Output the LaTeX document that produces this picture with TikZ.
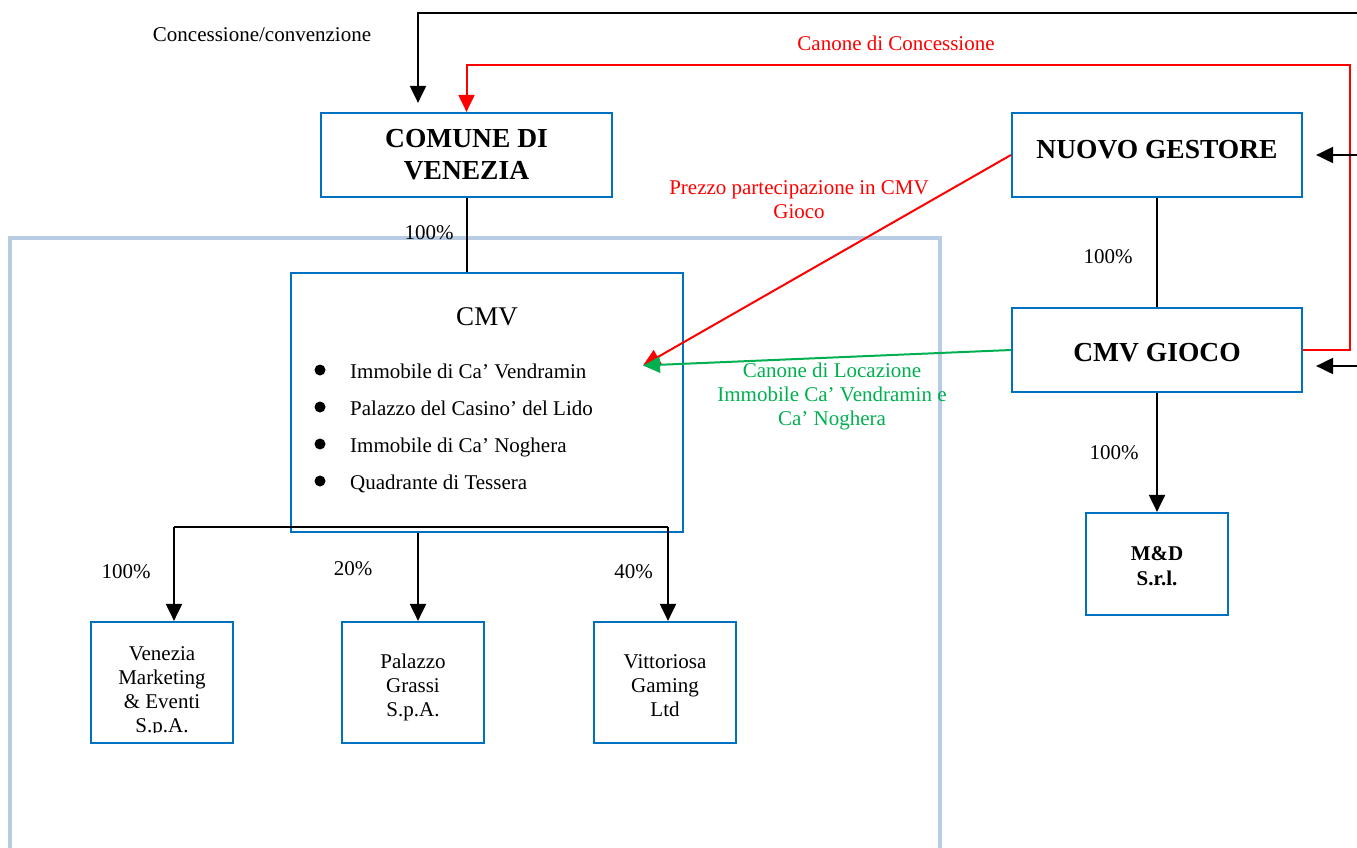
\documentclass[tikz,border=0pt]{standalone}
\usepackage{fontspec}
\setmainfont{Liberation Serif}
\usetikzlibrary{arrows.meta}
\definecolor{boxblue}{RGB}{0,112,192}
\definecolor{frameblue}{RGB}{184,204,228}
\definecolor{lgreen}{RGB}{0,176,80}
\begin{document}
\begin{tikzpicture}[x=1pt,y=-1pt,
  box/.style={draw=boxblue,line width=2.2pt,inner sep=0pt},
  txt/.style={font=\fontsize{21}{24}\selectfont,inner sep=0pt},
  btxt/.style={font=\fontsize{21}{25}\selectfont\bfseries,inner sep=0pt},
  big/.style={font=\fontsize{27.5}{32}\selectfont\bfseries,inner sep=0pt},
  conn/.style={line width=2pt},
  tipa/.style={-{Triangle[length=17pt,width=16pt]}},
  arr/.style={conn,tipa},
]
\useasboundingbox (0,0) rectangle (1357,848);
\fill[white] (0,0) rectangle (1357,848);

% light blue frame
\draw[frameblue,line width=4pt] (10,852) -- (10,238) -- (940,238) -- (940,852);

% boxes
\node[box,minimum width=291pt,minimum height=84pt] (comune) at (466.5,155) {};
\node[big,align=center] (comunet) at (466.5,155) {COMUNE DI\\VENEZIA};
\node[box,minimum width=290pt,minimum height=84pt] (nuovo) at (1157,155) {};
\node[big,anchor=base] (nuovot) at (1157,158) {NUOVO GESTORE};
\node[box,minimum width=290pt,minimum height=84pt] (gioco) at (1157,350) {};
\node[big,anchor=base] (giocot) at (1157,361) {CMV GIOCO};
\node[box,minimum width=142pt,minimum height=102pt] (md) at (1157,564) {};
\node[btxt,anchor=base] (md1) at (1157,560) {M\&D};
\node[btxt,anchor=base] (md2) at (1157,585) {S.r.l.};

\node[box,minimum width=392pt,minimum height=259pt] (cmv) at (487,402.5) {};
\node[font=\fontsize{27}{30}\selectfont,inner sep=0pt,anchor=base] (cmvt) at (487,325) {CMV};
\foreach \yy/\tt/\nm in {378/{Immobile di Ca’ Vendramin}/b1,415/{Palazzo del Casino’ del Lido}/b2,452/{Immobile di Ca’ Noghera}/b3,489/{Quadrante di Tessera}/b4}{
  \fill (320,\yy-8) circle (5.5pt);
  \node[txt,anchor=base west] (\nm) at (350,\yy) {\tt};
}

\node[box,minimum width=142pt,minimum height=121pt] (vme) at (162,682.5) {};
\begin{scope}
  \clip (vme.north west) rectangle ([yshift=12pt]vme.south east);
  \node[txt,anchor=base] (vme1) at (162,660) {Venezia};
  \node[txt,anchor=base] (vme2) at (162,684) {Marketing};
  \node[txt,anchor=base] (vme3) at (162,708) {\& Eventi};
  \node[txt,anchor=base] (vme4) at (162,732) {S.p.A.};
\end{scope}
\node[box,minimum width=142pt,minimum height=121pt] (pg) at (413,682.5) {};
\node[txt,anchor=base] (pg1) at (413,668) {Palazzo};
\node[txt,anchor=base] (pg2) at (413,692) {Grassi};
\node[txt,anchor=base] (pg3) at (413,716) {S.p.A.};
\node[box,minimum width=142pt,minimum height=121pt] (vit) at (665,682.5) {};
\node[txt,anchor=base] (vit1) at (665,668) {Vittoriosa};
\node[txt,anchor=base] (vit2) at (665,692) {Gaming};
\node[txt,anchor=base] (vit3) at (665,716) {Ltd};

% coordinates
\coordinate (edgeTop) at (1357,13);
\coordinate (blkCorner) at (418,13);
\coordinate (redCornerL) at (466.5,65);
\coordinate (redCornerR) at (1350,65);
\coordinate (edgeN) at (1357,155);
\coordinate (edgeG) at (1357,366);
\coordinate (target) at (643,365.5);
\coordinate (busL) at (174,527);
\coordinate (busR) at (668,527);
\coordinate (pgx) at (418,0);

% top black concession arrow
\draw[arr] (edgeTop) -- (blkCorner) -- ([yshift=9pt]comune.north -| blkCorner);
% red canone
\draw[conn,red,tipa] (gioco.east |- 0,350) -- (1350,350) -- (redCornerR) -- (redCornerL) -- (comune.north);
% right-edge black arrows
\draw[arr] (edgeN) -- ([xshift=13pt]nuovo.east);
\draw[arr] (edgeG) -- ([xshift=13pt]gioco.east |- edgeG);
% ownership lines
\draw[conn] (comune.south) -- (cmv.north -| comune.south);
\draw[conn] (nuovo.south) -- (gioco.north);
\draw[arr] (gioco.south) -- (md.north);
% CMV subsidiaries
\draw[conn] (busL) -- (busR);
\draw[arr] (busL) -- (busL |- vme.north);
\draw[arr] (busR) -- (busR |- vit.north);
\draw[arr] (cmv.south -| pgx) -- (pg.north -| pgx);
% red and green flows
\draw[conn,red,tipa] (nuovo.west) -- (target);
\draw[conn,lgreen,tipa] (gioco.west) -- (target);

% labels
\node[txt,anchor=base] (l1) at (262,41.5) {Concessione/convenzione};
\node[txt,anchor=base,text=red] (l2) at (896,50.5) {Canone di Concessione};
\node[txt,anchor=base,text=red] (l3a) at (799,194) {Prezzo partecipazione in CMV};
\node[txt,anchor=base,text=red] (l3b) at (799,218) {Gioco};
\node[txt,anchor=base] (p1) at (429,239) {100\%};
\node[txt,anchor=base] (p2) at (1108,263) {100\%};
\node[txt,anchor=base] (p3) at (1114,459) {100\%};
\node[txt,anchor=base,text=lgreen] (g1) at (832,377) {Canone di Locazione};
\node[txt,anchor=base,text=lgreen] (g2) at (832,401) {Immobile Ca’ Vendramin e};
\node[txt,anchor=base,text=lgreen] (g3) at (832,425) {Ca’ Noghera};
\node[txt,anchor=base] (p4) at (126,578) {100\%};
\node[txt,anchor=base] (p5) at (353,575) {20\%};
\node[txt,anchor=base] (p6) at (633.5,578) {40\%};
\end{tikzpicture}
\end{document}
